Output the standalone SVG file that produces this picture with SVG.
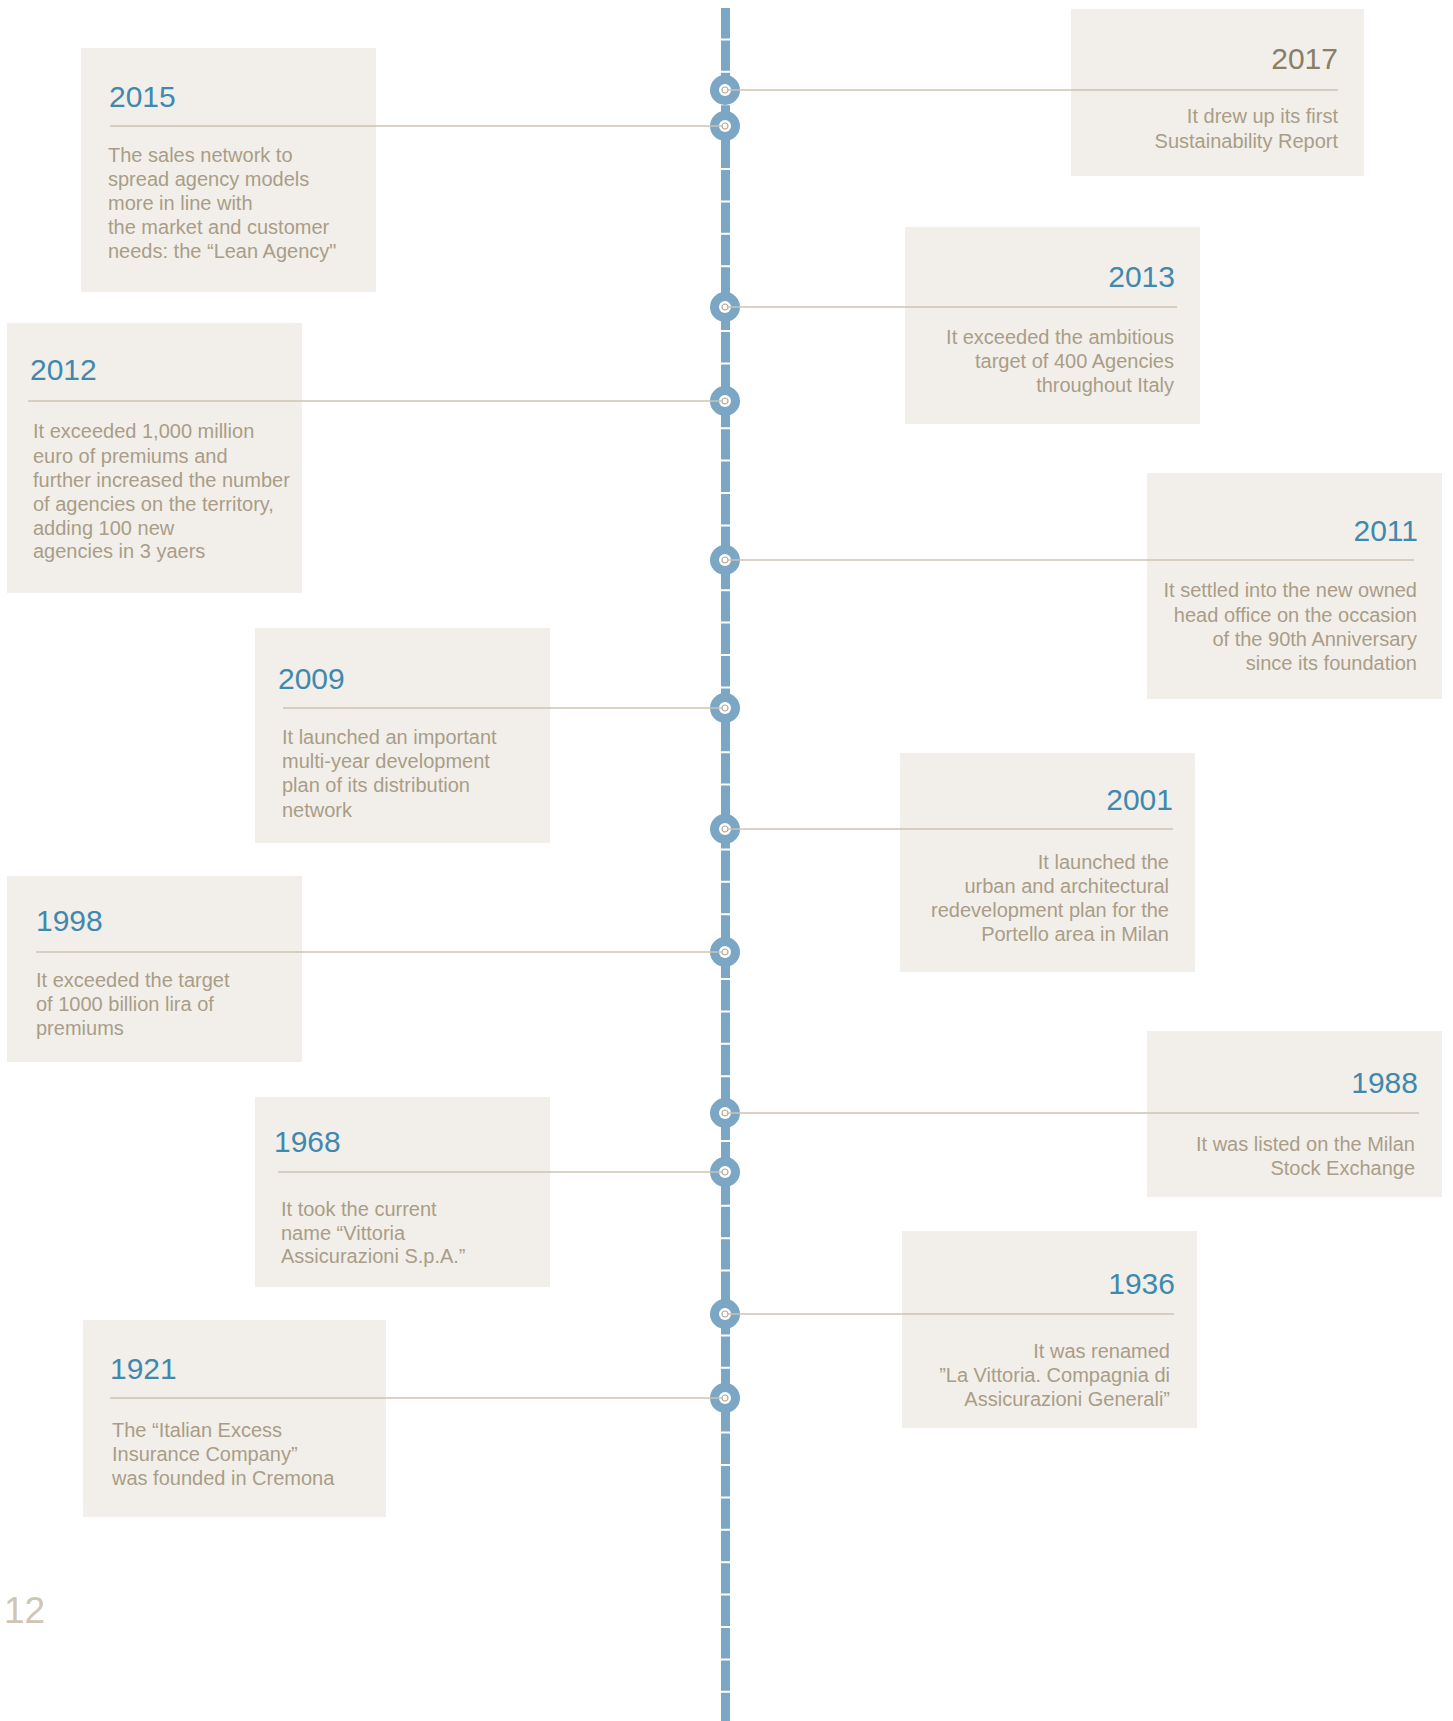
<svg xmlns="http://www.w3.org/2000/svg" width="1453" height="1721" viewBox="0 0 1453 1721">
<style>
.box{fill:#f2efea}
.yr{font-family:"Liberation Sans",Arial,sans-serif;font-size:30px;fill:#3f89ae}
.yr17{fill:#8a7e66}
.tx{font-family:"Liberation Sans",Arial,sans-serif;font-size:20px;fill:#a99d88}
.end{text-anchor:end}
.conn{stroke:#cdc3b3;stroke-width:1.5;fill:none}
.spine{stroke:#7ba6c4;stroke-width:9;stroke-dasharray:30.4 2;fill:none}
.dot-o{fill:#7ba6c4}
.dot-i{fill:#ffffff}
.dot-r{fill:#ffffff;stroke:#b5a890;stroke-width:1.2}
.pg{font-family:"Liberation Sans",Arial,sans-serif;font-size:37px;fill:#cfc5b5}
</style>
<defs>
<g id="dot"><circle r="15" class="dot-o"/><circle r="6" class="dot-i"/><circle r="3" class="dot-r"/></g>
</defs>
<rect width="1453" height="1721" fill="#ffffff"/>

<g id="node-2017">
<rect class="box" x="1071" y="9" width="293" height="167"/>
<text class="yr yr17 end" x="1338" y="69">2017</text>
<text class="tx end" x="1338" y="123">It drew up its first</text>
<text class="tx end" x="1338" y="148">Sustainability Report</text>
</g>
<g id="node-2015">
<rect class="box" x="81" y="48" width="295" height="244"/>
<text class="yr" x="109" y="107">2015</text>
<text class="tx" x="108" y="162">The sales network to</text>
<text class="tx" x="108" y="186">spread agency models</text>
<text class="tx" x="108" y="210">more in line with</text>
<text class="tx" x="108" y="234">the market and customer</text>
<text class="tx" x="108" y="258">needs: the “Lean Agency"</text>
</g>
<g id="node-2013">
<rect class="box" x="905" y="227" width="295" height="197"/>
<text class="yr end" x="1175" y="287">2013</text>
<text class="tx end" x="1174" y="344">It exceeded the ambitious</text>
<text class="tx end" x="1174" y="368">target of 400 Agencies</text>
<text class="tx end" x="1174" y="392">throughout Italy</text>
</g>
<g id="node-2012">
<rect class="box" x="7" y="323" width="295" height="270"/>
<text class="yr" x="30" y="380">2012</text>
<text class="tx" x="33" y="438">It exceeded 1,000 million</text>
<text class="tx" x="33" y="463">euro of premiums and</text>
<text class="tx" x="33" y="487">further increased the number</text>
<text class="tx" x="33" y="511">of agencies on the territory,</text>
<text class="tx" x="33" y="535">adding 100 new</text>
<text class="tx" x="33" y="558">agencies in 3 yaers</text>
</g>
<g id="node-2011">
<rect class="box" x="1147" y="473" width="295" height="226"/>
<text class="yr end" x="1418" y="541">2011</text>
<text class="tx end" x="1417" y="597">It settled into the new owned</text>
<text class="tx end" x="1417" y="622">head office on the occasion</text>
<text class="tx end" x="1417" y="646">of the 90th Anniversary</text>
<text class="tx end" x="1417" y="670">since its foundation</text>
</g>
<g id="node-2009">
<rect class="box" x="255" y="628" width="295" height="215"/>
<text class="yr" x="278" y="689">2009</text>
<text class="tx" x="282" y="744">It launched an important</text>
<text class="tx" x="282" y="768">multi-year development</text>
<text class="tx" x="282" y="792">plan of its distribution</text>
<text class="tx" x="282" y="817">network</text>
</g>
<g id="node-2001">
<rect class="box" x="900" y="753" width="295" height="219"/>
<text class="yr end" x="1173" y="810">2001</text>
<text class="tx end" x="1169" y="869">It launched the</text>
<text class="tx end" x="1169" y="893">urban and architectural</text>
<text class="tx end" x="1169" y="917">redevelopment plan for the</text>
<text class="tx end" x="1169" y="941">Portello area in Milan</text>
</g>
<g id="node-1998">
<rect class="box" x="7" y="876" width="295" height="186"/>
<text class="yr" x="36" y="931">1998</text>
<text class="tx" x="36" y="987">It exceeded the target</text>
<text class="tx" x="36" y="1011">of 1000 billion lira of</text>
<text class="tx" x="36" y="1035">premiums</text>
</g>
<g id="node-1988">
<rect class="box" x="1147" y="1031" width="295" height="166"/>
<text class="yr end" x="1418" y="1093">1988</text>
<text class="tx end" x="1415" y="1151">It was listed on the Milan</text>
<text class="tx end" x="1415" y="1175">Stock Exchange</text>
</g>
<g id="node-1968">
<rect class="box" x="255" y="1097" width="295" height="190"/>
<text class="yr" x="274" y="1152">1968</text>
<text class="tx" x="281" y="1216">It took the current</text>
<text class="tx" x="281" y="1240">name “Vittoria</text>
<text class="tx" x="281" y="1263">Assicurazioni S.p.A.”</text>
</g>
<g id="node-1936">
<rect class="box" x="902" y="1231" width="295" height="197"/>
<text class="yr end" x="1175" y="1294">1936</text>
<text class="tx end" x="1170" y="1358">It was renamed</text>
<text class="tx end" x="1170" y="1382">”La Vittoria. Compagnia di</text>
<text class="tx end" x="1170" y="1406">Assicurazioni Generali”</text>
</g>
<g id="node-1921">
<rect class="box" x="83" y="1320" width="303" height="197"/>
<text class="yr" x="110" y="1379">1921</text>
<text class="tx" x="112" y="1437">The “Italian Excess</text>
<text class="tx" x="112" y="1461">Insurance Company”</text>
<text class="tx" x="112" y="1485">was founded in Cremona</text>
</g>

<g id="timeline">
<line class="spine" x1="725.5" y1="8" x2="725.5" y2="1721"/>
<use href="#dot" x="725" y="90"/>
<use href="#dot" x="725" y="126"/>
<use href="#dot" x="725" y="307"/>
<use href="#dot" x="725" y="401"/>
<use href="#dot" x="725" y="560"/>
<use href="#dot" x="725" y="708"/>
<use href="#dot" x="725" y="829"/>
<use href="#dot" x="725" y="952"/>
<use href="#dot" x="725" y="1113"/>
<use href="#dot" x="725" y="1172"/>
<use href="#dot" x="725" y="1314"/>
<use href="#dot" x="725" y="1398"/>
</g>

<g id="connectors">
<line class="conn" x1="728" y1="90" x2="1338" y2="90"/>
<line class="conn" x1="110" y1="126" x2="722" y2="126"/>
<line class="conn" x1="728" y1="307" x2="1177" y2="307"/>
<line class="conn" x1="28" y1="401" x2="722" y2="401"/>
<line class="conn" x1="728" y1="560" x2="1414" y2="560"/>
<line class="conn" x1="283" y1="708" x2="722" y2="708"/>
<line class="conn" x1="728" y1="829" x2="1173" y2="829"/>
<line class="conn" x1="36" y1="952" x2="722" y2="952"/>
<line class="conn" x1="728" y1="1113" x2="1419" y2="1113"/>
<line class="conn" x1="278" y1="1172" x2="722" y2="1172"/>
<line class="conn" x1="728" y1="1314" x2="1174" y2="1314"/>
<line class="conn" x1="110" y1="1398" x2="722" y2="1398"/>
</g>

<text class="pg" x="4" y="1623">12</text>
</svg>
